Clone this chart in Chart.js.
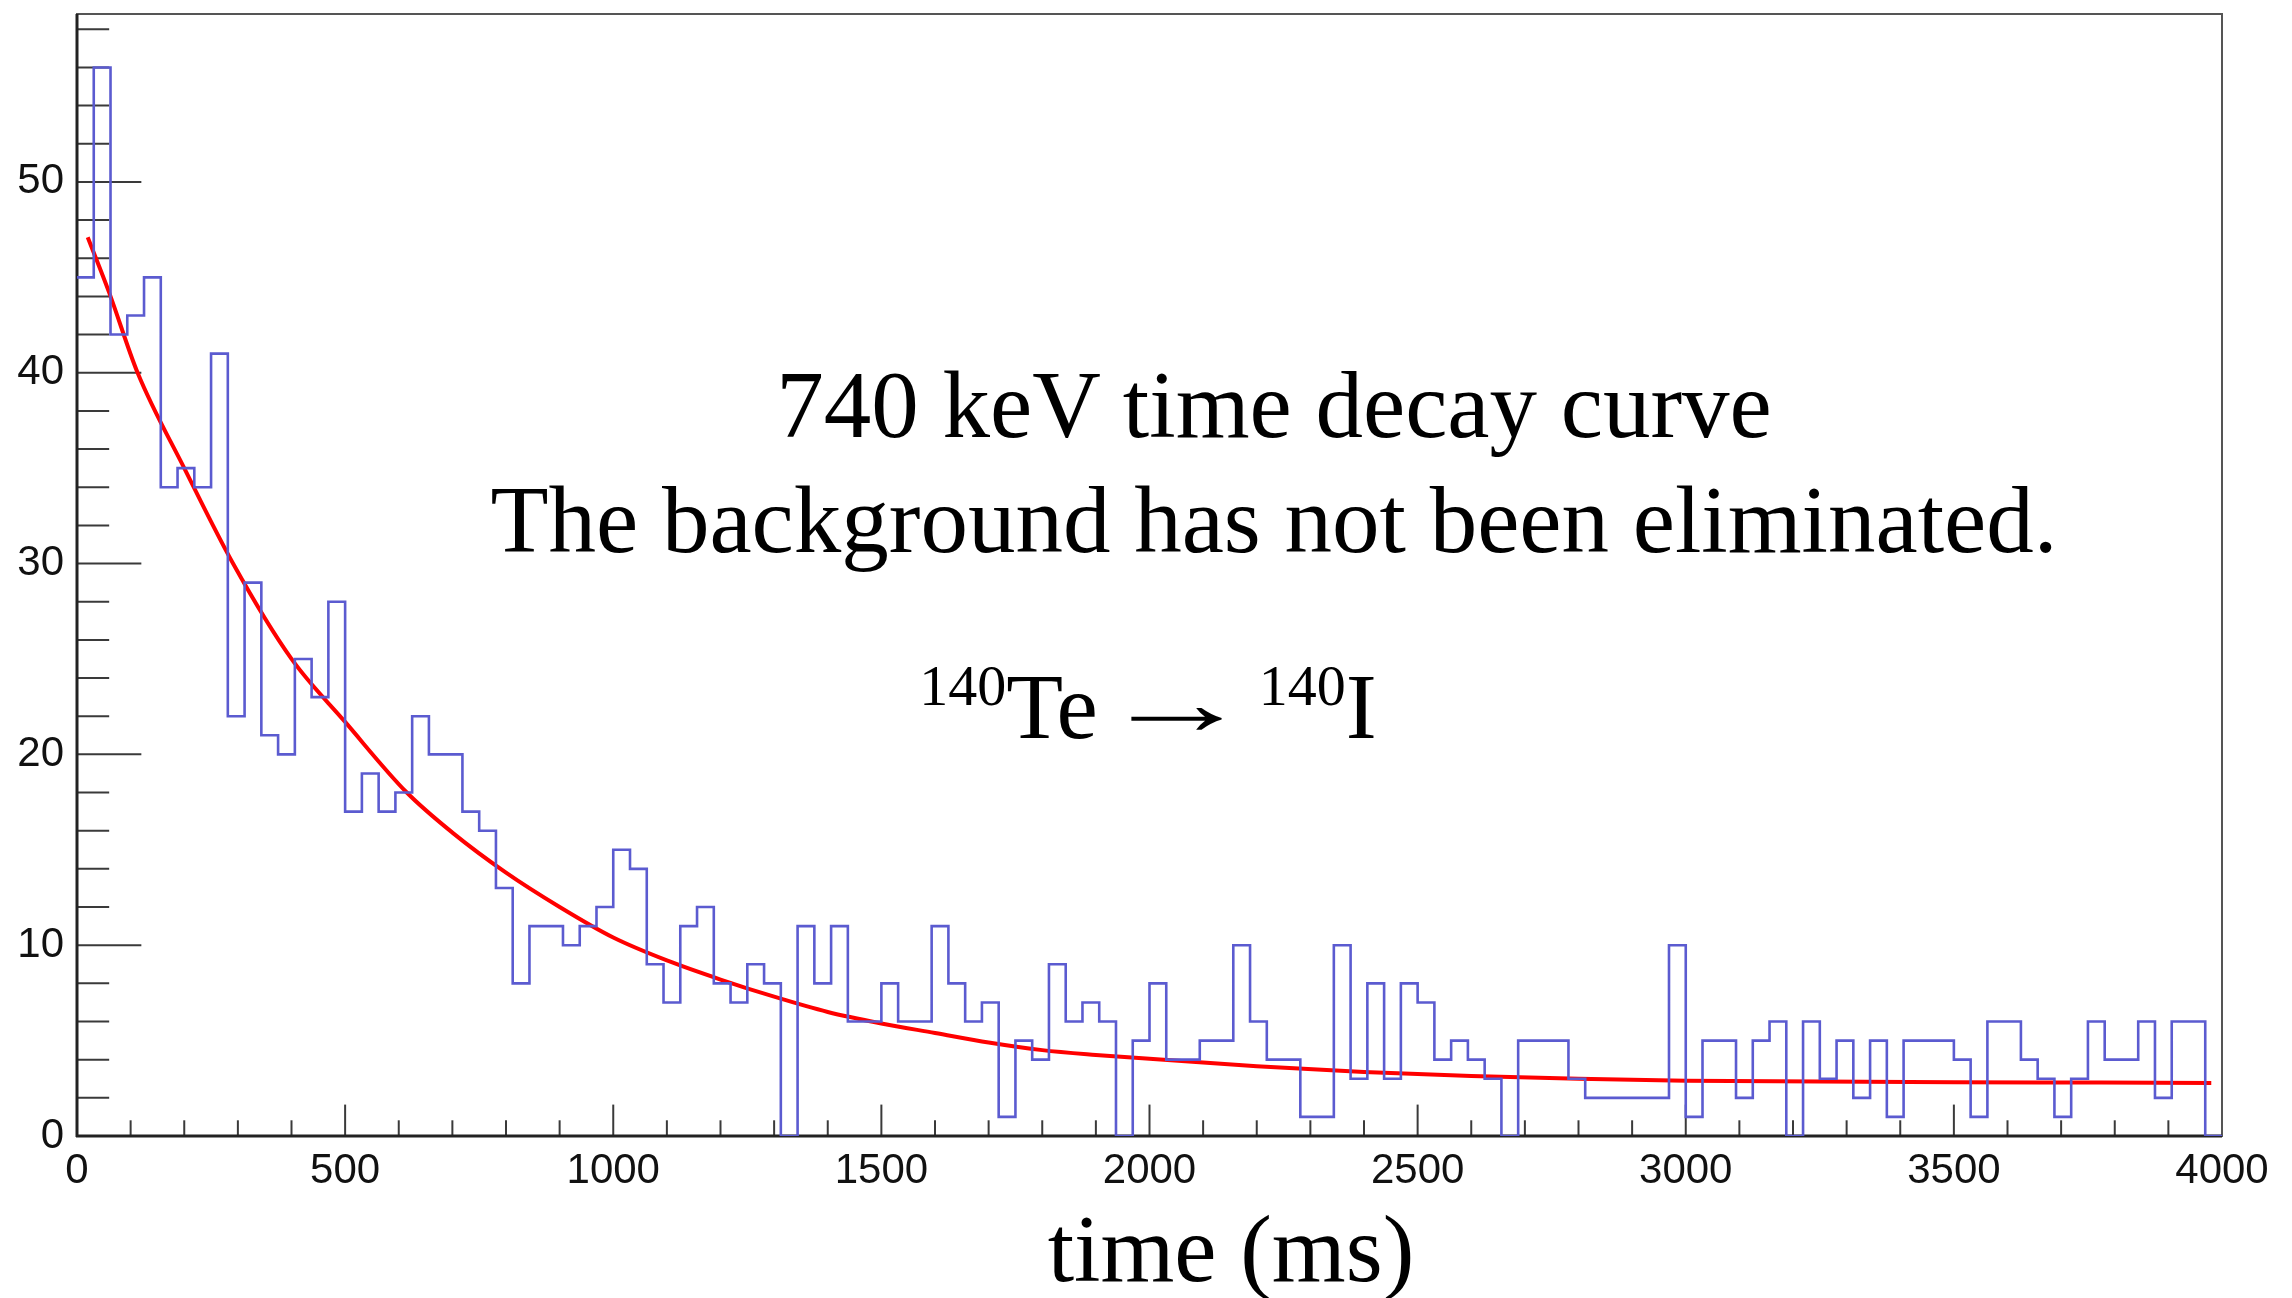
<!DOCTYPE html>
<html>
<head>
<meta charset="utf-8">
<script src="https://cdn.jsdelivr.net/npm/chart.js@4/dist/chart.umd.min.js"></script>
<style>
  html, body { margin: 0; padding: 0; background: #ffffff; }
  #wrap { position: relative; width: 2292px; height: 1298px; overflow: hidden; background: #ffffff; }
  #c { position: absolute; left: 0; top: 0; }
  .ann { position: absolute; font-family: 'Liberation Serif', 'Times New Roman', serif; color: #000; white-space: nowrap; line-height: 1; text-align: center; }
  .sup { position: relative; font-size: 58px; top: -33px; }
  .arrow { display: inline-block; transform: scaleX(1.64); margin: 0 36px 0 32px; position: relative; top: -4px; }
</style>
</head>
<body>
<div id="wrap">
  <canvas id="c" width="2292" height="1298"></canvas>
  <div class="ann" style="font-size:95px; left:0; width:2548px; top:358px;">740 keV time decay curve</div>
  <div class="ann" style="font-size:95px; left:0; width:2548px; top:473px;">The background has not been eliminated.</div>
  <div class="ann" style="font-size:93px; left:0; width:2296px; top:660px;"><span class="sup">140</span>Te<span class="arrow">→</span><span class="sup">140</span>I</div>
  <div class="ann" style="font-size:95px; left:0; width:2462px; top:1202px;">time (ms)</div>
</div>
<script>
// ---- data ----
const xRange = [0, 4000];            // time axis (ms)
const yRange = [0, 58.8];            // counts axis
const binCounts = [
  45, 56, 42, 43, 45, 34, 35, 34, 41, 22, 29, 21, 20, 25, 23, 28,
  17, 19, 17, 18, 22, 20, 20, 17, 16, 13, 8, 11, 11, 10, 11, 12,
  15, 14, 9, 7, 11, 12, 8, 7, 9, 8, 0, 11, 8, 11, 6, 6,
  8, 6, 6, 11, 8, 6, 7, 1, 5, 4, 9, 6, 7, 6, 0, 5,
  8, 4, 4, 5, 5, 10, 6, 4, 4, 1, 1, 10, 3, 8, 3, 8,
  7, 4, 5, 4, 3, 0, 5, 5, 5, 3, 2, 2, 2, 2, 2, 10,
  1, 5, 5, 2, 5, 6, 0, 6, 3, 5, 2, 5, 1, 5, 5, 5,
  4, 1, 6, 6, 4, 3, 1, 3, 6, 4, 4, 6, 2, 6, 6, 0
];
const fitTimes  = [20, 60, 113, 200, 291, 400, 500, 615, 700, 800, 900, 1000, 1100, 1200, 1300, 1400, 1500, 1600, 1700, 1800, 1900, 2000, 2200, 2400, 2600, 2800, 3000, 3250, 3500, 3750, 3980];
const fitValues = [47.1, 44.2, 40.0, 35.0, 30.0, 25.0, 21.7, 18.0, 15.9, 13.8, 12.0, 10.4, 9.2, 8.2, 7.3, 6.5, 5.9, 5.4, 4.9, 4.5, 4.25, 4.05, 3.65, 3.35, 3.15, 3.0, 2.9, 2.86, 2.82, 2.8, 2.78];
const xTickLabels = [0, 500, 1000, 1500, 2000, 2500, 3000, 3500, 4000];
const yTickLabels = [0, 10, 20, 30, 40, 50];
const xMinorTicks = [100, 200, 300, 400, 600, 700, 800, 900, 1100, 1200, 1300, 1400, 1600, 1700, 1800, 1900, 2100, 2200, 2300, 2400, 2600, 2700, 2800, 2900, 3100, 3200, 3300, 3400, 3600, 3700, 3800, 3900];
const yMinorTicks = [2, 4, 6, 8, 12, 14, 16, 18, 22, 24, 26, 28, 32, 34, 36, 38, 42, 44, 46, 48, 52, 54, 56, 58];

// ---- build histogram outline (bin left edges + closing edge) ----
const binWidth = (xRange[1] - xRange[0]) / binCounts.length;
const histPoints = binCounts.map((v, i) => ({ x: xRange[0] + i * binWidth, y: v }));
histPoints.push({ x: xRange[1], y: binCounts[binCounts.length - 1] });
const fitPoints = fitTimes.map((t, i) => ({ x: t, y: fitValues[i] }));

const frameAndTicks = {
  id: 'frameAndTicks',
  beforeDatasetsDraw(chart) {
    const { ctx, chartArea: a, scales: { x, y } } = chart;
    ctx.save();
    ctx.strokeStyle = '#3a3a3a';
    ctx.lineWidth = 2;
    const seg = (x1, y1, x2, y2) => { ctx.beginPath(); ctx.moveTo(x1, y1); ctx.lineTo(x2, y2); ctx.stroke(); };
    const yMajLen = (a.right - a.left) * 0.03, yMinLen = yMajLen / 2;
    const xMajLen = (a.bottom - a.top) * 0.028, xMinLen = xMajLen / 2;
    yTickLabels.forEach(v => { const p = y.getPixelForValue(v); seg(a.left, p, a.left + yMajLen, p); });
    yMinorTicks.forEach(v => { const p = y.getPixelForValue(v); seg(a.left, p, a.left + yMinLen, p); });
    xTickLabels.forEach(v => { const p = x.getPixelForValue(v); seg(p, a.bottom, p, a.bottom - xMajLen); });
    xMinorTicks.forEach(v => { const p = x.getPixelForValue(v); seg(p, a.bottom, p, a.bottom - xMinLen); });
    ctx.lineWidth = 2;
    ctx.strokeStyle = '#555';
    ctx.strokeRect(a.left, a.top, a.right - a.left, a.bottom - a.top);
    ctx.lineWidth = 3;
    ctx.strokeStyle = '#222';
    seg(a.left, a.top, a.left, a.bottom + 1);
    seg(a.left - 1, a.bottom, a.right, a.bottom);
    ctx.restore();
  }
};

const noPad = s => { s.paddingTop = 0; s.paddingBottom = 0; s.paddingLeft = 0; s.paddingRight = 0; };

new Chart(document.getElementById('c'), {
  type: 'line',
  data: {
    datasets: [
      {
        label: 'counts',
        data: histPoints,
        stepped: 'before',
        borderColor: '#5b5bd0',
        borderWidth: 2.6,
        pointRadius: 0,
        fill: false,
        tension: 0,
        borderJoinStyle: 'miter'
      },
      {
        label: 'fit',
        data: fitPoints,
        borderColor: '#ff0000',
        borderWidth: 4,
        pointRadius: 0,
        fill: false,
        cubicInterpolationMode: 'monotone'
      }
    ]
  },
  options: {
    responsive: false,
    animation: false,
    devicePixelRatio: 1,
    layout: { padding: { left: 0, right: 70, top: 14, bottom: 0 } },
    plugins: { legend: { display: false }, tooltip: { enabled: false }, title: { display: false } },
    scales: {
      x: {
        type: 'linear',
        min: xRange[0], max: xRange[1],
        grid: { display: false, drawTicks: false },
        border: { display: false },
        afterBuildTicks: s => { s.ticks = xTickLabels.map(v => ({ value: v })); },
        afterFit: s => { s.height = 162; noPad(s); },
        ticks: {
          autoSkip: false, maxRotation: 0, minRotation: 0, padding: 10,
          color: '#111',
          font: { family: "'Liberation Sans', Arial, sans-serif", size: 42 },
          callback: v => String(v)
        }
      },
      y: {
        type: 'linear',
        min: yRange[0], max: yRange[1],
        grid: { display: false, drawTicks: false },
        border: { display: false },
        afterBuildTicks: s => { s.ticks = yTickLabels.map(v => ({ value: v })); },
        afterFit: s => { s.width = 77; noPad(s); },
        ticks: {
          padding: 13,
          color: '#111',
          font: { family: "'Liberation Sans', Arial, sans-serif", size: 42 },
          callback: v => String(v)
        }
      }
    }
  },
  plugins: [frameAndTicks]
});
</script>
</body>
</html>
